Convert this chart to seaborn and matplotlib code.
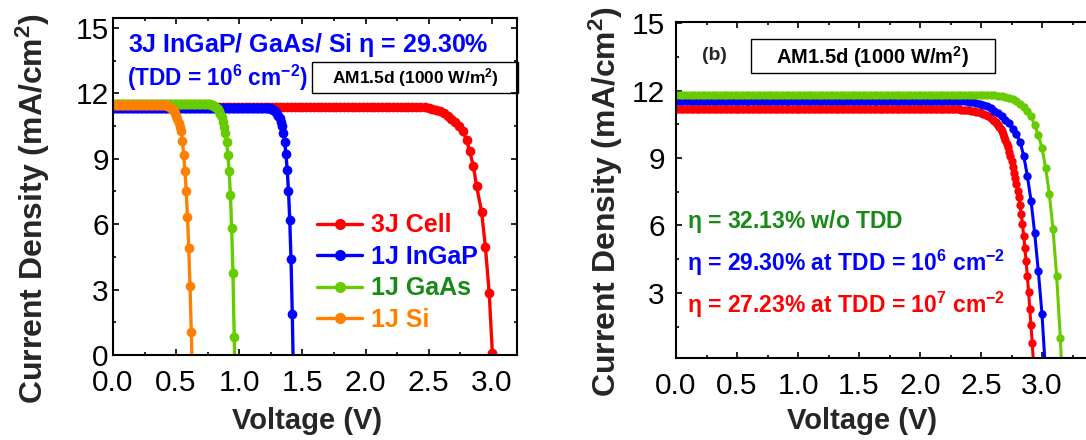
import numpy as np
import matplotlib
matplotlib.use("Agg")
import matplotlib.pyplot as plt
import seaborn as sns
from matplotlib.lines import Line2D
from matplotlib.patches import Rectangle
from matplotlib.ticker import MultipleLocator, FormatStrFormatter

sns.set_theme(style="ticks")
plt.rcParams["font.family"] = ["Liberation Sans", "DejaVu Sans"]
plt.rcParams["mathtext.fontset"] = "custom"
plt.rcParams["mathtext.rm"] = "Liberation Sans"
plt.rcParams["mathtext.bf"] = "Liberation Sans:bold"
plt.rcParams["mathtext.it"] = "Liberation Sans:italic"

# ---------------------------------------------------------------------------
# J-V sweeps.  Each curve: flat plateau (start V, stop V, step, J) followed by
# the measured knee / drop points (V, J).
# ---------------------------------------------------------------------------
# (a) 3J InGaP/GaAs/Si cell and its subcells, TDD = 1e6 cm^-2
cell3j_plateau = (0.00, 2.44, 0.03, 11.38)
cell3j_v = [2.47, 2.50, 2.53, 2.56, 2.59, 2.62, 2.65, 2.68, 2.71, 2.74,
            2.77, 2.80, 2.825, 2.855, 2.88, 2.92, 2.95, 2.98, 3.005, 3.035]
cell3j_j = [11.36, 11.33, 11.29, 11.24, 11.17, 11.08, 10.97, 10.83, 10.67, 10.49,
            10.26, 9.87, 9.34, 8.65, 7.73, 6.55, 4.93, 2.83, 0.08, -3.0]

ingap_plateau = (0.00, 1.22, 0.01, 11.33)
ingap_v = [1.23, 1.24, 1.25, 1.26, 1.27, 1.28, 1.29, 1.30, 1.31, 1.32, 1.33,
           1.34, 1.35, 1.36, 1.37, 1.38, 1.39, 1.40, 1.41, 1.42, 1.43]
ingap_j = [11.32, 11.31, 11.29, 11.27, 11.24, 11.20, 11.14, 11.07, 10.98, 10.86, 10.70,
           10.48, 10.17, 9.75, 9.20, 8.48, 7.52, 6.20, 4.38, 1.90, -1.2]

gaas_plateau = (0.00, 0.77, 0.01, 11.50)
gaas_v = [0.78, 0.79, 0.80, 0.81, 0.82, 0.83, 0.84, 0.85, 0.86, 0.87,
          0.88, 0.89, 0.90, 0.91, 0.92, 0.93, 0.94, 0.95, 0.96, 0.97]
gaas_j = [11.48, 11.46, 11.43, 11.39, 11.34, 11.27, 11.18, 11.06, 10.90, 10.70,
          10.46, 10.18, 9.75, 9.18, 8.42, 7.35, 5.82, 3.75, 0.84, -2.0]

si_plateau = (0.00, 0.42, 0.01, 11.44)
si_v = [0.43, 0.44, 0.45, 0.46, 0.47, 0.48, 0.49, 0.50, 0.51, 0.52,
        0.53, 0.54, 0.55, 0.56, 0.57, 0.58, 0.59, 0.60, 0.61, 0.62, 0.63]
si_j = [11.42, 11.40, 11.37, 11.33, 11.27, 11.19, 11.09, 10.96, 10.81, 10.64,
        10.46, 10.26, 9.80, 9.18, 8.42, 7.50, 6.32, 4.90, 3.18, 1.07, -1.2]

# (b) 3J cell for different threading dislocation densities
notdd_plateau = (0.00, 2.55, 0.03, 11.80)
notdd_v = [2.58, 2.61, 2.64, 2.67, 2.70, 2.73, 2.76, 2.79, 2.82, 2.85, 2.88,
           2.91, 2.94, 2.97, 3.00, 3.03, 3.06, 3.09, 3.12, 3.15, 3.18]
notdd_j = [11.79, 11.78, 11.76, 11.74, 11.71, 11.67, 11.61, 11.53, 11.42, 11.27, 11.09,
           10.88, 10.45, 10.02, 9.44, 8.55, 7.40, 5.85, 3.75, 1.00, -2.5]

tdd6_plateau = (0.00, 2.31, 0.03, 11.55)
tdd6_v = [2.34, 2.37, 2.40, 2.43, 2.46, 2.49, 2.52, 2.55, 2.58, 2.61, 2.64, 2.67,
          2.70, 2.73, 2.76, 2.79, 2.82, 2.85, 2.88, 2.91, 2.94, 2.97, 3.00, 3.03]
tdd6_j = [11.54, 11.53, 11.51, 11.49, 11.46, 11.42, 11.37, 11.30, 11.21, 11.10, 10.98, 10.85,
          10.71, 10.55, 10.28, 10.05, 9.72, 9.10, 8.20, 7.10, 5.65, 3.95, 2.05, -0.6]

tdd7_plateau = (0.00, 2.30, 0.02, 11.17)
tdd7_v = [2.32, 2.34, 2.36, 2.38, 2.40, 2.42, 2.44, 2.46, 2.48, 2.50, 2.52, 2.54,
          2.56, 2.58, 2.60, 2.61, 2.62, 2.63, 2.64, 2.65, 2.66, 2.67, 2.68, 2.69,
          2.70, 2.71, 2.72, 2.73, 2.74, 2.75, 2.76, 2.77, 2.78, 2.79, 2.80, 2.81,
          2.82, 2.83, 2.84, 2.85, 2.86, 2.87, 2.88, 2.89, 2.90, 2.91, 2.92, 2.93]
tdd7_j = [11.16, 11.15, 11.14, 11.13, 11.12, 11.10, 11.08, 11.06, 11.03, 11.00, 10.96, 10.91,
          10.86, 10.79, 10.70, 10.65, 10.59, 10.52, 10.45, 10.37, 10.28, 10.18, 10.07, 9.94,
          9.80, 9.64, 9.47, 9.28, 9.07, 8.85, 8.60, 8.35, 8.10, 7.85, 7.55, 7.25,
          6.90, 6.50, 6.05, 5.55, 5.00, 4.40, 3.75, 3.05, 2.30, 1.55, 0.75, -0.10]

legend_labels = ["3J Cell", "1J InGaP", "1J GaAs", "1J Si"]
eff_labels = [r"$\mathbf{\eta}$ = 32.13% w/o TDD",
              r"$\mathbf{\eta}$ = 29.30% at TDD = 10$^\mathbf{6}$ cm$^\mathbf{-2}$",
              r"$\mathbf{\eta}$ = 27.23% at TDD = 10$^\mathbf{7}$ cm$^\mathbf{-2}$"]

x_ticks = [0.0, 0.5, 1.0, 1.5, 2.0, 2.5, 3.0]
y_ticks_a = [0, 3, 6, 9, 12, 15]
y_ticks_b = [3, 6, 9, 12, 15]

RED, BLUE, GREEN, ORANGE = "#FF0000", "#0000FF", "#66CC00", "#FF8000"
DKGREEN = "#178A17"


def sweep(plateau, v_pts, j_pts):
    v0, v1, step, j0 = plateau
    v_flat = np.arange(v0, v1 + step / 2, step)
    v = np.concatenate([v_flat, np.asarray(v_pts, float)])
    j = np.concatenate([np.full(len(v_flat), j0), np.asarray(j_pts, float)])
    return v, j


W, H = 1086, 440
fig = plt.figure(figsize=(W / 100, H / 100), dpi=100)


def px_axes(x0, y0, x1, y1):
    return fig.add_axes([x0 / W, 1 - y1 / H, (x1 - x0) / W, (y1 - y0) / H])


def style_axes(ax, yticks, ypad):
    for s in ax.spines.values():
        s.set_linewidth(1.5)
        s.set_color("black")
    ax.set_xticks(x_ticks)
    ax.set_yticks(yticks)
    ax.xaxis.set_minor_locator(MultipleLocator(0.25))
    ax.yaxis.set_minor_locator(MultipleLocator(1.5))
    ax.xaxis.set_major_formatter(FormatStrFormatter("%.1f"))
    ax.tick_params(which="both", direction="in", top=True, right=True,
                   colors="black", width=1.2)
    ax.tick_params(which="major", length=4.5, labelsize=21.5)
    ax.tick_params(which="minor", length=2.5)
    ax.tick_params(axis="x", which="major", pad=10)
    ax.tick_params(axis="y", which="major", pad=ypad)
    ax.set_xlabel("")
    ax.set_ylabel("")
    ax.set_facecolor("white")


def draw(ax, v, j, color, ms, lw):
    sns.lineplot(x=v, y=j, ax=ax, color=color, sort=False, estimator=None,
                 marker="o", markersize=ms, markeredgewidth=0, linewidth=lw,
                 legend=False)


# ---------------------------- panel (a) ------------------------------------
ax1 = px_axes(113, 18, 517, 355)
curves_a = [(cell3j_plateau, cell3j_v, cell3j_j, RED),
            (ingap_plateau, ingap_v, ingap_j, BLUE),
            (gaas_plateau, gaas_v, gaas_j, GREEN),
            (si_plateau, si_v, si_j, ORANGE)]
for plateau, vv, jj, col in curves_a:
    v, j = sweep(plateau, vv, jj)
    draw(ax1, v, j, col, 7, 2.4)
ax1.set_xlim(0, 3.2)
ax1.set_ylim(0, 15.45)
style_axes(ax1, y_ticks_a, 3)

handles = [Line2D([], [], color=c, lw=2.4, marker="o", markersize=8, markeredgewidth=0)
           for c in (RED, BLUE, GREEN, ORANGE)]
ax1.legend(handles, legend_labels, loc="upper left", bbox_to_anchor=(0.505, 0.42),
           frameon=False, prop={"weight": "bold", "size": 18},
           labelcolor=[RED, BLUE, DKGREEN, ORANGE], handlelength=1.8,
           handletextpad=0.35, labelspacing=0.3, borderpad=0, borderaxespad=0)

fig.text(128 / W, 1 - 45 / H, r"3J InGaP/ GaAs/ Si $\mathbf{\eta}$ = 29.30%",
         color=BLUE, fontsize=18, fontweight="bold", ha="left", va="center")
fig.text(127 / W, 1 - 78 / H, r"(TDD = 10$^\mathbf{6}$ cm$^\mathbf{-2}$)",
         color=BLUE, fontsize=16.3, fontweight="bold", ha="left", va="center")
fig.add_artist(Rectangle((312 / W, 1 - 93 / H), 206 / W, 31 / H,
                         transform=fig.transFigure, fill=False, ec="black", lw=1.0))
fig.text(415 / W, 1 - 77.5 / H, r"AM1.5d (1000 W/m$^\mathbf{2}$)", color="black",
         fontsize=12.5, fontweight="bold", ha="center", va="center")

fig.text(33 / W, 1 - 208 / H, r"Current Density (mA/cm$^\mathbf{2}$)", rotation=90,
         fontsize=23, fontweight="bold", ha="center", va="center")
fig.text(307 / W, 1 - 421 / H, "Voltage (V)", fontsize=21, fontweight="bold",
         ha="center", va="center")

# ---------------------------- panel (b) ------------------------------------
ax2 = px_axes(676, 22, 1110, 358)
curves_b = [(tdd7_plateau, tdd7_v, tdd7_j, RED),
            (tdd6_plateau, tdd6_v, tdd6_j, BLUE),
            (notdd_plateau, notdd_v, notdd_j, GREEN)]
for plateau, vv, jj, col in curves_b:
    v, j = sweep(plateau, vv, jj)
    draw(ax2, v, j, col, 6, 2.2)
ax2.set_xlim(0, 434 / 122)
ax2.set_ylim(0.1, 15.05)
style_axes(ax2, y_ticks_b, 8)

fig.text(714 / W, 1 - 55 / H, "(b)", fontsize=14, fontweight="bold",
         ha="center", va="center")
fig.add_artist(Rectangle((751 / W, 1 - 73 / H), 244 / W, 34 / H,
                         transform=fig.transFigure, fill=False, ec="black", lw=1.0))
fig.text(873 / W, 1 - 57 / H, r"AM1.5d (1000 W/m$^\mathbf{2}$)", color="black",
         fontsize=14.5, fontweight="bold", ha="center", va="center")

for label, col, yc in zip(eff_labels, [DKGREEN, BLUE, RED], [221, 263, 305]):
    fig.text(687 / W, 1 - yc / H, label, color=col, fontsize=16.5,
             fontweight="bold", ha="left", va="center")

fig.text(606 / W, 1 - 201 / H, r"Current Density (mA/cm$^\mathbf{2}$)", rotation=90,
         fontsize=23, fontweight="bold", ha="center", va="center")
fig.text(862 / W, 1 - 421 / H, "Voltage (V)", fontsize=21, fontweight="bold",
         ha="center", va="center")

fig.savefig("out.png", dpi=100, facecolor="white")
